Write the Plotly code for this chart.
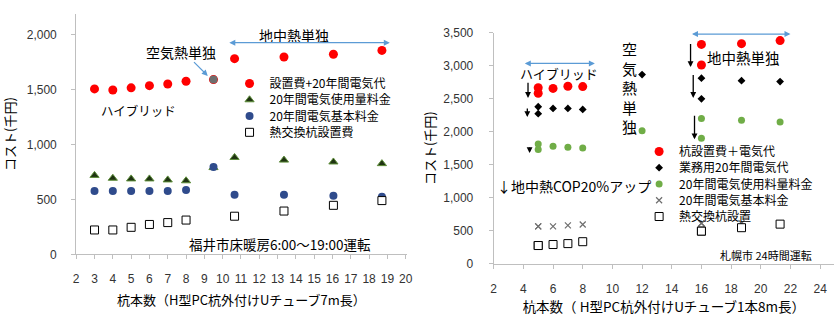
import plotly.graph_objects as go

W, H = 840, 323
FONT = "Liberation Sans, Noto Sans CJK JP, sans-serif"
JFONT = "Noto Sans CJK JP, sans-serif"

# ---------------- left chart data (Fukui) ----------------
L_x = [3, 4, 5, 6, 7, 8, 9.5, 10.65, 13.35, 16.05, 18.7]
L_total = [1505, 1495, 1515, 1535, 1550, 1575, 1590, 1780, 1795, 1820, 1855]
L_usage = [719, 693, 687, 687, 678, 670, 790, 882, 858, 841, 826]
L_basic = [577, 577, 577, 577, 577, 586, 795, 542, 542, 534, 525]
L_pile = [223, 223, 247, 273, 290, 313, None, 348, 395, 447, 490]
L_air_x = [9.5]
L_air_total = [1590]
L_names = ["設置費+20年間電気代", "20年間電気使用量料金", "20年間電気基本料金", "熱交換杭設置費"]
L_xticks = list(range(2, 21))

# ---------------- right chart data (Sapporo) ----------------
R_x = [5, 5, 6, 7, 8, 12, 16, 16, 18.7, 21.3]
R_total = [2665, 2582, 2655, 2688, 2683, None, 3322, 3010, 3333, 3380]
R_elec = [2377, 2272, 2352, 2352, 2337, 2864, 2810, 2497, 2772, 2758]
R_usage = [1812, 1729, 1777, 1764, 1754, 2014, 2200, 1900, 2174, 2145]
R_basic = [565, 565, 565, 580, 594, None, 613, 613, 613, 600]
R_pile = [275, 275, 290, 304, 333, None, 493, 493, 545, 599]
R_names = ["杭設置費＋電気代", "業務用20年間電気代", "20年間電気使用料量料金", "20年間電気基本料金", "熱交換杭設置"]


def px(x):
    return x / W


def py(y):
    return 1 - y / H


fig = go.Figure()

# left traces (each in its own legend so rows can sit at the original spacing)
fig.add_trace(go.Scatter(x=L_x, y=L_total, mode="markers", name=L_names[0],
                         marker=dict(color="#FF0000", size=9), xaxis="x", yaxis="y", legend="legend"))
fig.add_trace(go.Scatter(x=L_x, y=L_usage, mode="markers", name=L_names[1],
                         marker=dict(color="#1F3312", size=8, symbol="triangle-up",
                                     line=dict(color="#5E8E3A", width=1)),
                         xaxis="x", yaxis="y", legend="legend2"))
fig.add_trace(go.Scatter(x=L_x, y=L_basic, mode="markers", name=L_names[2],
                         marker=dict(color="#2F4B8C", size=8), xaxis="x", yaxis="y", legend="legend3"))
fig.add_trace(go.Scatter(x=L_x, y=L_pile, mode="markers", name=L_names[3],
                         marker=dict(color="white", size=8, symbol="square",
                                     line=dict(color="black", width=1)),
                         xaxis="x", yaxis="y", legend="legend4"))
fig.add_trace(go.Scatter(x=L_air_x, y=L_air_total, mode="markers", showlegend=False,
                         marker=dict(color="#6E6E6E", size=8), xaxis="x", yaxis="y"))

# right traces
fig.add_trace(go.Scatter(x=R_x, y=R_total, mode="markers", name=R_names[0],
                         marker=dict(color="#FF0000", size=9), xaxis="x2", yaxis="y2", legend="legend5"))
fig.add_trace(go.Scatter(x=R_x, y=R_elec, mode="markers", name=R_names[1],
                         marker=dict(color="black", size=6, symbol="diamond"),
                         xaxis="x2", yaxis="y2", legend="legend6"))
fig.add_trace(go.Scatter(x=R_x, y=R_usage, mode="markers", name=R_names[2],
                         marker=dict(color="#70AD47", size=7), xaxis="x2", yaxis="y2", legend="legend7"))
fig.add_trace(go.Scatter(x=R_x, y=R_basic, mode="markers", name=R_names[3],
                         marker=dict(color="#6E6E6E", size=6, symbol="x-thin",
                                     line=dict(color="#6E6E6E", width=1.2)),
                         xaxis="x2", yaxis="y2", legend="legend8"))
fig.add_trace(go.Scatter(x=R_x, y=R_pile, mode="markers", name=R_names[4],
                         marker=dict(color="white", size=8, symbol="square",
                                     line=dict(color="black", width=1)),
                         xaxis="x2", yaxis="y2", legend="legend9"))

axis_common = dict(showgrid=False, zeroline=False, showline=True, linecolor="#BFBFBF",
                   linewidth=1, ticks="outside", ticklen=4, tickcolor="#BFBFBF",
                   tickfont=dict(family=FONT, size=12, color="#333333"))


def leg(x, y, size):
    return dict(x=px(x), y=py(y), xanchor="left", yanchor="middle", bgcolor="rgba(0,0,0,0)",
                font=dict(family=JFONT, size=size, color="black"), itemwidth=30, tracegroupgap=0)


layout = dict(
    width=W, height=H, margin=dict(l=0, r=0, t=0, b=0),
    paper_bgcolor="white", plot_bgcolor="white",
    font=dict(family=JFONT, color="black"),
    xaxis=dict(axis_common, domain=[px(74), px(408)], range=[2, 20.05], tickvals=L_xticks,
               anchor="y", ticklabelstandoff=9,
               title=dict(text="杭本数（H型PC杭外付けUチューブ7m長）", font=dict(size=13), standoff=11)),
    yaxis=dict(axis_common, domain=[py(258.7), py(7)], range=[0, 2189], dtick=500,
               tickformat=",", anchor="x", ticklabelstandoff=12,
               title=dict(text="コスト(千円)", font=dict(size=13), standoff=14)),
    xaxis2=dict(axis_common, domain=[px(496), 1], range=[2, 2 + (840 - 496) / 15], dtick=2,
                anchor="y2", ticklabelstandoff=10,
                title=dict(text="杭本数（ H型PC杭外付けUチューブ1本8m長）", font=dict(size=13.5), standoff=0)),
    yaxis2=dict(axis_common, domain=[py(268.3), py(26.8)], range=[0, 3500], dtick=500,
                tickformat=",", anchor="x2", ticklabelstandoff=13,
                title=dict(text="コスト(千円)", font=dict(size=13), standoff=4)),
    showlegend=True,
)
L_rows = [80, 97, 114, 131]
R_rows = [151, 168, 185, 202, 219]
for i, yy in enumerate(L_rows):
    layout["legend" if i == 0 else f"legend{i + 1}"] = leg(229, yy, 12)
for i, yy in enumerate(R_rows):
    layout[f"legend{i + 5}"] = leg(643, yy, 12)
fig.update_layout(**layout)

BLUE = "#5B9BD5"
ann = []


def text(x, y, t, size, **kw):
    ann.append(dict(xref="paper", yref="paper", x=px(x), y=py(y), text=t, showarrow=False,
                    font=dict(family=JFONT, size=size, color="black"), xanchor="center",
                    yanchor="middle", **kw))


def arrow(x0, y0, x1, y1, color, both=False, width=1.2, size=1.0):
    # head at (x1, y1), tail at (x0, y0), in pixels
    ann.append(dict(xref="paper", yref="paper", x=px(x1), y=py(y1), ax=x0 - x1, ay=y0 - y1,
                    axref="pixel", ayref="pixel", text="", showarrow=True, arrowhead=2,
                    arrowsize=size, arrowwidth=width, arrowcolor=color,
                    arrowside="end+start" if both else "end", startarrowhead=2,
                    startarrowsize=size, standoff=0, startstandoff=0))


# left annotations
text(294, 29, "地中熱単独", 14)
arrow(229, 37.3, 391, 37.3, BLUE, both=True)
text(180, 47, "空気熱単独", 14)
arrow(191.7, 56.7, 207, 72, BLUE)
text(137, 107.7, "ハイブリッド", 12.5)
text(280.5, 247.3, "福井市床暖房6:00～19:00運転", 13.5)

# right annotations
arrow(526.7, 59, 598.3, 59, BLUE, both=True)
text(561.7, 69, "ハイブリッド", 13)
arrow(696, 28.3, 796, 28.3, BLUE, both=True)
text(748.3, 52.3, "地中熱単独", 14.5)
text(633.3, 84, "空<br>気<br>熱<br>単<br>独", 15)
arrow(530.7, 78.3, 530.7, 95, "black", width=1.3, size=0.9)
arrow(530, 105, 530, 115, "black", width=1.3, size=0.9)
arrow(532.3, 145.5, 532.3, 152.7, "black", width=1.3, size=0.9)
arrow(695, 38.3, 695, 62.7, "black", width=1.3, size=0.9)
arrow(697.7, 70.7, 697.7, 95, "black", width=1.3, size=0.9)
arrow(699, 113.3, 699, 138.3, "black", width=1.3, size=0.9)
text(577.5, 186.7, "↓地中熱COP20%アップ", 14)
text(771, 259, "札幌市 24時間運転", 11)

fig.update_layout(annotations=ann)
fig.write_html("out.html")
